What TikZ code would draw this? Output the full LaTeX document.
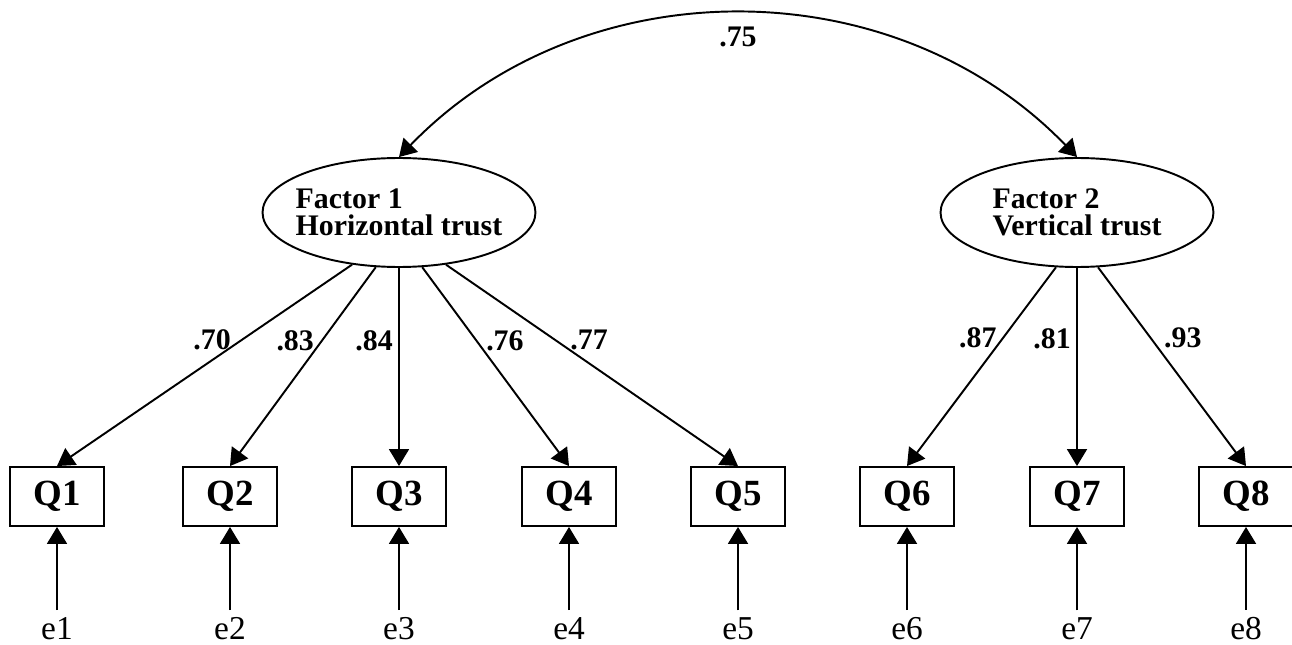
\documentclass[tikz,border=0pt]{standalone}
\usepackage{fontspec}
\setmainfont{Liberation Serif}
\usetikzlibrary{shapes.geometric,arrows.meta}

\begin{document}
\begin{tikzpicture}[x=0.02cm,y=0.02cm,line width=1.1pt,
    >={Triangle[length=0.34cm,width=0.4cm]},
    factor/.style={draw,ellipse,minimum width=5.46cm,minimum height=2.18cm,inner sep=0pt},
    ftext/.style={align=left,inner sep=0pt,font=\fontsize{17}{15.4}\selectfont\bfseries},
    item/.style={draw,rectangle,minimum width=1.88cm,minimum height=1.18cm,inner sep=0pt,
      font=\fontsize{21}{24}\selectfont\bfseries},
    err/.style={font=\fontsize{19}{22}\selectfont},
    wt/.style={inner sep=1pt,font=\fontsize{17}{20}\selectfont\bfseries}]
  \useasboundingbox (0,0) rectangle (1292,-645);

  % Latent factors
  \node[factor,label={[ftext]center:{Factor 1\\Horizontal trust}}] (f1) at (399,-212.5) {};
  \node[factor,label={[ftext]center:{Factor 2\\Vertical trust}}] (f2) at (1077,-212.5) {};

  % Items and errors
  \foreach \i/\x in {1/57,2/230,3/399,4/569,5/738,6/907,7/1077,8/1246}{
    \node[item] (q\i) at (\x,-496.5) {Q\i};
    \node[err,anchor=base] (e\i) at (\x,-639) {e\i};
    \draw[->] (e\i) -- (q\i);
  }

  % Loadings
  \draw[->] (f1.-132) -- node[wt,pos=.375,left=4.5pt] {.70} (q1.north);
  \draw[->] (f1.-113) -- node[wt,pos=.37,left=3pt] {.83} (q2.north);
  \draw[->] (f1.south) -- node[wt,pos=.37,left=2pt] {.84} (q3.north);
  \draw[->] (f1.-67) -- node[wt,pos=.37,right=4pt] {.76} (q4.north);
  \draw[->] (f1.-48) -- node[wt,pos=.375,right=7pt] {.77} (q5.north);
  \draw[->] (f2.-111) -- node[wt,pos=.357,left=2pt] {.87} (q6.north);
  \draw[->] (f2.south) -- node[wt,pos=.357,left=2pt] {.81} (q7.north);
  \draw[->] (f2.-69) -- node[wt,pos=.357,right=6pt] {.93} (q8.north);

  % Covariance
  \draw[<->] (f1.north) to[out=46,in=134] node[wt,below=5.5pt] {.75} (f2.north);
\end{tikzpicture}
\end{document}
